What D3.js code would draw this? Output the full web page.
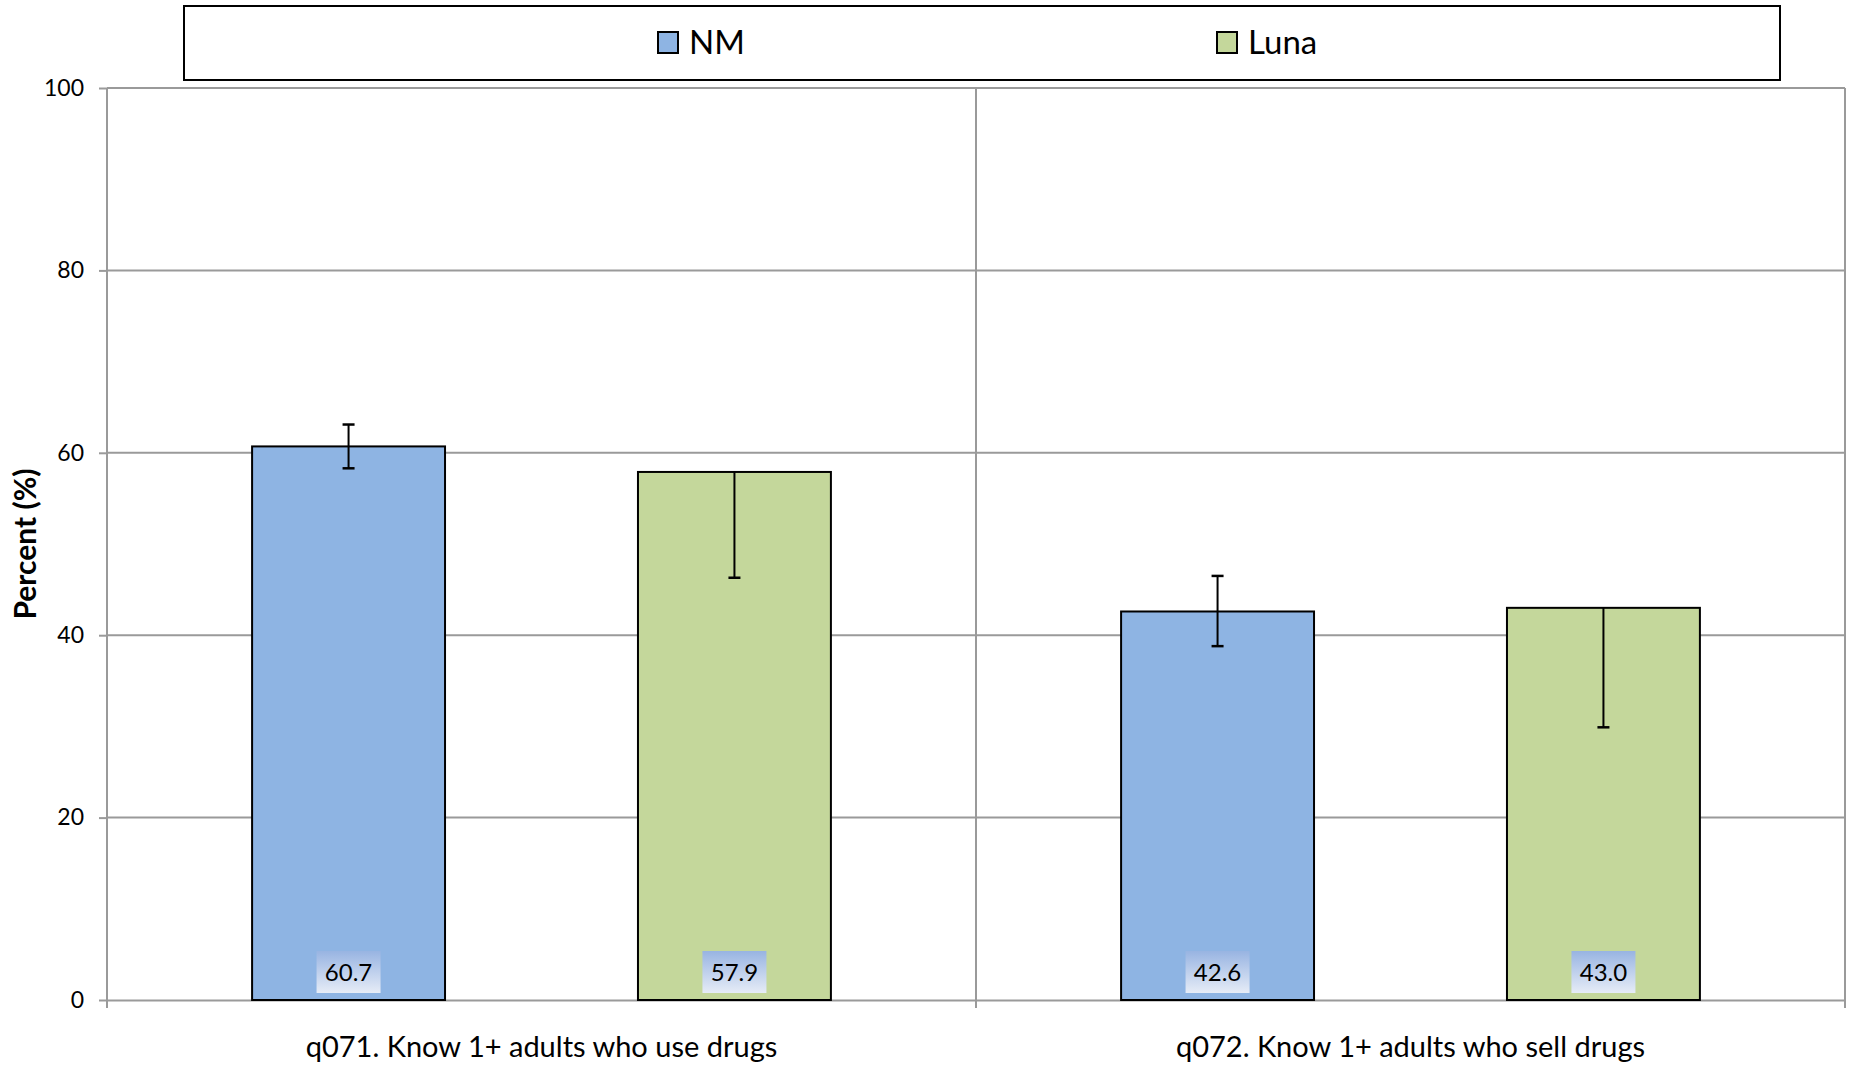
<!DOCTYPE html>
<html>
<head>
<meta charset="utf-8">
<script src="https://cdn.jsdelivr.net/npm/d3@7"></script>
<style>
  html, body { margin: 0; padding: 0; background: #fff; }
  svg { display: block; font-family: Lato, "Open Sans", sans-serif; }
</style>
</head>
<body>
<svg id="chart" width="1851" height="1070"></svg>
<script>
const categories = ["q071. Know 1+ adults who use drugs", "q072. Know 1+ adults who sell drugs"];
const seriesNames = ["NM", "Luna"];
const seriesColors = ["#8eb4e3", "#c4d79b"];
const nmValues = [60.7, 42.6];
const lunaValues = [57.9, 43.0];
const nmErrLow = [58.3, 38.8];
const nmErrHigh = [63.1, 46.5];
const lunaErrLow = [46.3, 29.9];
const lunaErrHigh = [57.9, 43.0];
const yTicks = [0, 20, 40, 60, 80, 100];
const yTitle = "Percent (%)";

const values = [nmValues, lunaValues];
const errLow = [nmErrLow, lunaErrLow];
const errHigh = [nmErrHigh, lunaErrHigh];

const svg = d3.select("#chart");
const L = 107, R = 1845, T = 88, B = 1000;

const y = d3.scaleLinear().domain([0, 100]).range([B, T]);
const x0 = d3.scaleBand().domain(categories).range([L, R]).padding(0);
const x1 = d3.scaleBand().domain(seriesNames).range([0, x0.bandwidth()]).paddingInner(0.5).paddingOuter(0.376);

const gridColor = "#9a9a9a";

// horizontal gridlines
svg.append("g").selectAll("line").data(yTicks.filter(d => d > 0)).join("line")
  .attr("x1", L).attr("x2", R).attr("y1", d => y(d)).attr("y2", d => y(d))
  .attr("stroke", gridColor).attr("stroke-width", 2);

// vertical category separators
const seps = [L, ...categories.map(c => x0(c) + x0.bandwidth())];
svg.append("g").selectAll("line").data(seps).join("line")
  .attr("x1", d => d).attr("x2", d => d).attr("y1", T).attr("y2", B + 8)
  .attr("stroke", gridColor).attr("stroke-width", 2);

// y axis
const yAxis = d3.axisLeft(y).tickValues(yTicks).tickSize(8).tickPadding(15).tickFormat(d3.format("d"));
const yg = svg.append("g").attr("transform", `translate(${L},0)`).call(yAxis);
yg.select(".domain").remove();
yg.selectAll(".tick line").attr("stroke", gridColor).attr("stroke-width", 2);
yg.selectAll(".tick text").attr("font-size", 23).attr("fill", "#000").attr("font-family", "Lato, sans-serif");

// x axis
const xAxis = d3.axisBottom(x0).tickSize(0).tickPadding(32);
const xg = svg.append("g").attr("transform", `translate(0,${B})`).call(xAxis);
xg.select(".domain").attr("stroke", gridColor).attr("stroke-width", 2);
xg.selectAll(".tick text").attr("font-size", 29).attr("fill", "#000").attr("font-family", "Lato, sans-serif").attr("dy", "0.85em");

// y title
svg.append("text").attr("transform", `translate(36,${(T + B) / 2}) rotate(-90)`)
  .attr("text-anchor", "middle").attr("font-size", 30).attr("font-weight", "bold").text(yTitle);

// gradient for labels
const defs = svg.append("defs");
const grad = defs.append("linearGradient").attr("id", "lblgrad").attr("x1", 0).attr("y1", 0).attr("x2", 0).attr("y2", 1);
grad.append("stop").attr("offset", "0%").attr("stop-color", "#98b4e2");
grad.append("stop").attr("offset", "100%").attr("stop-color", "#e6ecf7");

// bars
categories.forEach((cat, ci) => {
  const g = svg.append("g").attr("transform", `translate(${x0(cat)},0)`);
  seriesNames.forEach((s, si) => {
    const v = values[si][ci];
    const bx = x1(s), bw = x1.bandwidth();
    g.append("rect").attr("x", bx).attr("y", y(v)).attr("width", bw).attr("height", y(0) - y(v))
      .attr("fill", seriesColors[si]).attr("stroke", "#000").attr("stroke-width", 2);
  });
  seriesNames.forEach((s, si) => {
    const cx = x1(s) + x1.bandwidth() / 2;
    const lo = errLow[si][ci], hi = errHigh[si][ci];
    g.append("line").attr("x1", cx).attr("x2", cx).attr("y1", y(hi)).attr("y2", y(lo))
      .attr("stroke", "#000").attr("stroke-width", 2);
    g.append("line").attr("x1", cx - 6).attr("x2", cx + 6).attr("y1", y(lo)).attr("y2", y(lo))
      .attr("stroke", "#000").attr("stroke-width", 2.5);
    if (hi !== values[si][ci]) {
      g.append("line").attr("x1", cx - 6).attr("x2", cx + 6).attr("y1", y(hi)).attr("y2", y(hi))
        .attr("stroke", "#000").attr("stroke-width", 2.5);
    }
    // label
    const lw = 64, lh = 42;
    g.append("rect").attr("x", cx - lw / 2).attr("y", 951).attr("width", lw).attr("height", lh)
      .attr("fill", "url(#lblgrad)");
    g.append("text").attr("x", cx).attr("y", 981).attr("text-anchor", "middle")
      .attr("font-size", 24).attr("fill", "#000").text(d3.format(".1f")(values[si][ci]));
  });
});

// legend
svg.append("rect").attr("x", 184).attr("y", 6).attr("width", 1596).attr("height", 74)
  .attr("fill", "#fff").attr("stroke", "#000").attr("stroke-width", 2);
const legendX = [658, 1217];
seriesNames.forEach((s, i) => {
  svg.append("rect").attr("x", legendX[i]).attr("y", 32).attr("width", 20).attr("height", 21)
    .attr("fill", seriesColors[i]).attr("stroke", "#000").attr("stroke-width", 2);
  svg.append("text").attr("x", legendX[i] + 31).attr("y", 54).attr("font-size", 33).attr("fill", "#000").text(s);
});
</script>
</body>
</html>
